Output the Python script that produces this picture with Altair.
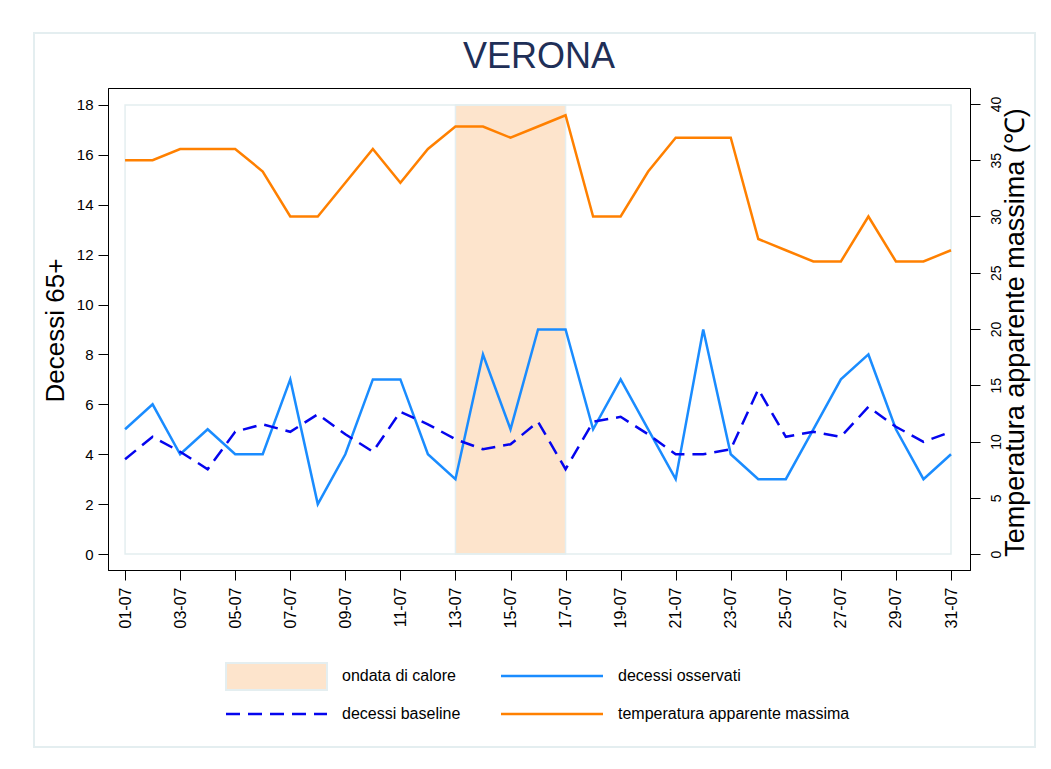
import altair as alt
import pandas as pd

# ---- data ----
days = list(range(1, 32))
observed = [5, 6, 4, 5, 4, 4, 7, 2, 4, 7, 7, 4, 3, 8, 5, 9, 9, 5, 7, 5, 3, 9, 4, 3, 3, 5, 7, 8, 5, 3, 4]
baseline = [3.8, 4.7, 4.1, 3.4, 4.9, 5.2, 4.9, 5.6, 4.8, 4.1, 5.7, 5.2, 4.6, 4.2, 4.4, 5.3, 3.4,
            5.3, 5.5, 4.8, 4.0, 4.0, 4.2, 6.6, 4.7, 4.9, 4.7, 5.9, 5.1, 4.5, 4.9]
temperature = [35, 35, 36, 36, 36, 34, 30, 30, 33, 36, 33, 36, 38, 38, 37, 38, 39,
               30, 30, 34, 37, 37, 37, 28, 27, 26, 26, 30, 26, 26, 27]
heatwave_start = [13]
heatwave_end = [17]
left_ticks = list(range(0, 19, 2))
right_ticks = list(range(0, 41, 5))
x_ticks = list(range(1, 32, 2))

FONT = "Liberation Sans"
OBS_COLOR = "#1a8cff"
BASE_COLOR = "#0505ee"
TEMP_COLOR = "#ff8000"
HEAT_FILL = "#fde4cc"
SOFT = "#e4eef0"

df = pd.DataFrame({"day": days, "observed": observed, "baseline": baseline, "temp": temperature})
heat = pd.DataFrame({"start": heatwave_start, "end": heatwave_end, "lo": [0], "hi": [18]})
frame = pd.DataFrame({"start": [days[0]], "end": [days[-1]], "lo": [0], "hi": [18]})
one = pd.DataFrame({"k": [0]})

x_axis = alt.Axis(values=x_ticks, title=None, labelAngle=270, labelFontSize=16, labelPadding=7,
                  tickSize=10, grid=False, zindex=1,
                  labelExpr="(datum.value < 10 ? '0' : '') + datum.value + '-07'")
x_scale = alt.Scale(domain=[0.38, 31.69], nice=False, zero=False)

left_axis = alt.Axis(title="Decessi 65+", values=left_ticks, tickSize=10, labelFontSize=15,
                     labelPadding=5, titleFontSize=26, titleX=-53, titleY=242, titleAngle=270,
                     titleAlign="center", titleBaseline="middle", grid=False, zindex=1)
left_scale = alt.Scale(domain=[-0.64, 18.68], nice=False, zero=False)

right_axis = alt.Axis(title="Temperatura apparente massima (℃)", orient="right", values=right_ticks,
                      tickSize=10, labelFontSize=14, labelPadding=9, labelAngle=270,
                      labelAlign="center", labelBaseline="top",
                      titleFontSize=27, titleX=45, titleY=244, titleAngle=270,
                      titleAlign="center", titleBaseline="middle", grid=False, zindex=1)
right_scale = alt.Scale(domain=[-1.42, 41.42], nice=False, zero=False)

X = alt.X("day:Q", scale=x_scale, axis=x_axis)

outer_box = alt.Chart(one).mark_rect(fill=None, stroke=SOFT, strokeWidth=2).encode(
    x=alt.value(-74), x2=alt.value(927), y=alt.value(-55), y2=alt.value(659))

heat_rect = alt.Chart(heat).mark_rect(fill=HEAT_FILL, stroke=SOFT, strokeWidth=1.5).encode(
    x=alt.X("start:Q", scale=x_scale, axis=x_axis), x2="end:Q",
    y=alt.Y("lo:Q", scale=left_scale, axis=left_axis), y2="hi:Q")

inner_frame = alt.Chart(frame).mark_rect(fill=None, stroke=SOFT, strokeWidth=1.5).encode(
    x=alt.X("start:Q", scale=x_scale, axis=x_axis), x2="end:Q",
    y=alt.Y("lo:Q", scale=left_scale, axis=left_axis), y2="hi:Q")

obs_line = alt.Chart(df).mark_line(color=OBS_COLOR, strokeWidth=2.5).encode(
    x=X, y=alt.Y("observed:Q", scale=left_scale, axis=left_axis))

base_line = alt.Chart(df).mark_line(color=BASE_COLOR, strokeWidth=2.5, strokeDash=[14, 8]).encode(
    x=X, y=alt.Y("baseline:Q", scale=left_scale, axis=left_axis))

# title
title_txt = alt.Chart(one).mark_text(text="VERONA", fontSize=36, font=FONT, color="#1f2f57",
                                     align="center", baseline="alphabetic").encode(
    x=alt.value(431), y=alt.value(-20))

# legend (manual, bottom)
leg = []
leg.append(alt.Chart(one).mark_rect(fill=HEAT_FILL, stroke=SOFT, strokeWidth=2).encode(
    x=alt.value(118), x2=alt.value(219), y=alt.value(575), y2=alt.value(602)))
leg.append(alt.Chart(one).mark_rule(color=BASE_COLOR, strokeWidth=2.5, strokeDash=[14, 8]).encode(
    x=alt.value(118), x2=alt.value(219), y=alt.value(626)))
leg.append(alt.Chart(one).mark_rule(color=OBS_COLOR, strokeWidth=2.5).encode(
    x=alt.value(393), x2=alt.value(495), y=alt.value(588)))
leg.append(alt.Chart(one).mark_rule(color=TEMP_COLOR, strokeWidth=2.5).encode(
    x=alt.value(393), x2=alt.value(495), y=alt.value(626)))
for label, px, py in [("ondata di calore", 234, 588), ("decessi baseline", 234, 626),
                      ("decessi osservati", 510, 588), ("temperatura apparente massima", 510, 626)]:
    leg.append(alt.Chart(one).mark_text(text=label, fontSize=16, font=FONT, color="black",
                                        align="left", baseline="middle").encode(
        x=alt.value(px), y=alt.value(py)))

left = alt.layer(outer_box, heat_rect, inner_frame, obs_line, base_line, title_txt, *leg)

right = alt.Chart(df).mark_line(color=TEMP_COLOR, strokeWidth=2.5).encode(
    x=X, y=alt.Y("temp:Q", scale=right_scale, axis=right_axis))

chart = alt.layer(left, right).resolve_scale(y="independent").properties(
    width=862, height=482,
    padding={"left": 100, "top": 80, "right": 70, "bottom": 190},
    autosize=alt.AutoSizeParams(type="none"),
    background="white",
).configure_view(stroke="black", strokeWidth=1).configure_axis(
    labelFont=FONT, titleFont=FONT, labelColor="black", titleColor="black",
    titleFontWeight="normal", domainColor="black", tickColor="black", domainWidth=1, tickWidth=1,
)

chart.save("out.html", embed_options={"renderer": "svg", "actions": False})
